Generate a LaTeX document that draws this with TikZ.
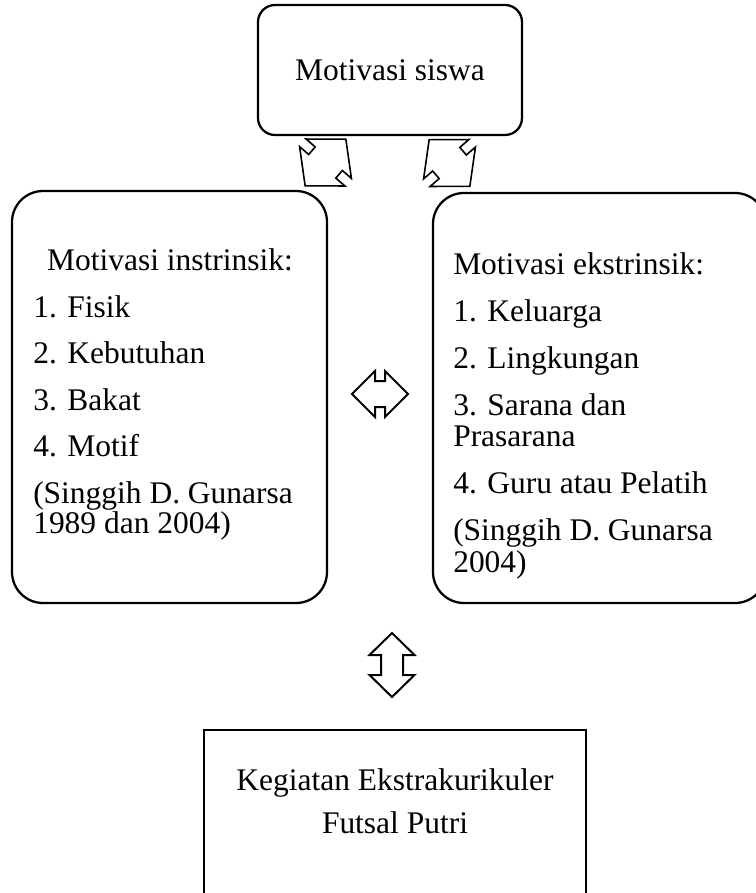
\documentclass[tikz,border=0pt]{standalone}
\usepackage{fontspec}
\setmainfont{Liberation Serif}
\newcommand{\blockarrow}[8]{%
  \draw[#1, shift={(#2,#3)}, rotate=#4]
    (-#5,0) -- (-#6,#7) -- (-#6,#8) -- (#6,#8) -- (#6,#7) -- (#5,0)
    -- (#6,-#7) -- (#6,-#8) -- (-#6,-#8) -- (-#6,-#7) -- cycle;}
\begin{document}
\begin{tikzpicture}[x=0.75pt,y=-0.75pt,
  font=\fontsize{23.6pt}{23pt}\selectfont,
  box/.style={draw, line width=1.7pt, inner sep=0pt},
  lbl/.style={inner sep=0pt, anchor=base west},
  clbl/.style={inner sep=0pt, anchor=base},
  barrow/.style={draw, line width=1.5pt, line join=miter},
  darrow/.style={draw, line width=1.2pt, line join=miter}]
\useasboundingbox (0,0) rectangle (756,893);
\clip (0,0) rectangle (756,893);
% top box
\node[box, rounded corners=12.75pt, minimum width={264*0.75pt}, minimum height={130*0.75pt}] (top) at (390,70) {};
\node[clbl] (toptext) at (390,80) {Motivasi siswa};
% left box
\node[box, rounded corners=23.25pt, minimum width={315*0.75pt}, minimum height={412*0.75pt}] (left) at (169.5,397) {};
\node[clbl] (l0) at (170,270) {Motivasi instrinsik:};
\node[lbl] (l1) at (33,317) {1. Fisik};
\node[lbl] (l2) at (33,363) {2. Kebutuhan};
\node[lbl] (l3) at (33,410) {3. Bakat};
\node[lbl] (l4) at (33,456) {4. Motif};
\node[lbl] (l5) at (33,503) {(Singgih D. Gunarsa};
\node[lbl] (l6) at (33,533) {1989 dan 2004)};
% right box
\node[box, rounded corners=23.25pt, minimum width={333*0.75pt}, minimum height={410*0.75pt}] (right) at (599.5,398) {};
\node[lbl] (r0) at (453,274) {Motivasi ekstrinsik:};
\node[lbl] (r1) at (453,321) {1. Keluarga};
\node[lbl] (r2) at (453,368) {2. Lingkungan};
\node[lbl] (r3) at (453,415) {3. Sarana dan};
\node[lbl] (r4) at (453,446) {Prasarana};
\node[lbl] (r5) at (453,493) {4. Guru atau Pelatih};
\node[lbl] (r6) at (453,540) {(Singgih D. Gunarsa};
\node[lbl] (r7) at (453,572) {2004)};
% bottom box
\node[box, line width=2pt, minimum width={382*0.75pt}, minimum height={270*0.75pt}] (bottom) at (395,865) {};
\node[clbl] (b1) at (395,790) {Kegiatan Ekstrakurikuler};
\node[clbl] (b2) at (395,833) {Futsal Putri};
% block arrows
\blockarrow{barrow}{380}{394}{0}{28}{5}{23}{13}
\blockarrow{barrow}{392}{665}{90}{32}{10}{22.5}{11}
\blockarrow{darrow}{325.5}{162.5}{49}{31}{5}{30}{18}
\blockarrow{darrow}{449.5}{163}{-49}{31}{5}{30}{18}
\end{tikzpicture}
\end{document}
